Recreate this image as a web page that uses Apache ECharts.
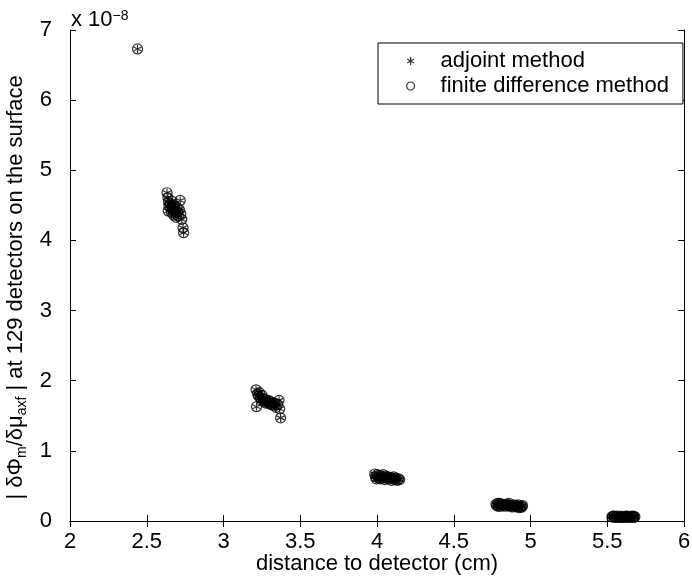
<!DOCTYPE html>
<html><head><meta charset="utf-8">
<script src="https://cdn.jsdelivr.net/npm/echarts@6/dist/echarts.min.js"></script>
<style>html,body{margin:0;padding:0;background:#fff}#c{width:692px;height:576px}</style>
</head><body><div id="c"></div>
<script>
// distance to detector (cm)
const distances = [
  2.440,
  2.632,2.638,2.641,2.645,2.640,2.652,2.657,2.660,2.664,2.668,2.672,2.676,2.680,2.684,2.688,2.692,2.697,2.702,2.706,2.712,2.718,2.722,2.728,2.736,2.740,
  3.212,3.215,3.222,3.228,3.234,3.240,3.246,3.252,3.258,3.264,3.270,3.276,3.282,3.288,3.294,3.300,3.306,3.312,3.318,3.326,3.334,3.342,3.352,3.362,3.366,3.372,
  3.985,3.990,3.995,4.000,4.008,4.014,4.020,4.026,4.032,4.040,4.046,4.052,4.058,4.066,4.072,4.080,4.088,4.094,4.100,4.108,4.116,4.124,4.132,4.140,4.148,
  4.775,4.780,4.788,4.795,4.802,4.810,4.818,4.826,4.834,4.842,4.850,4.858,4.866,4.874,4.882,4.890,4.898,4.906,4.914,4.922,4.930,4.938,4.944,4.790,4.860,4.920,4.800,4.948,
  5.530,5.538,5.546,5.554,5.562,5.570,5.578,5.586,5.594,5.602,5.610,5.618,5.626,5.634,5.642,5.650,5.658,5.666,5.674,5.680,5.544,5.590,5.630,5.672
];
// |dPhi_m/dmu_axf| (units of 1e-8), adjoint method
const adjointVals = [
  6.73,
  4.68,4.61,4.55,4.49,4.42,4.52,4.46,4.40,4.56,4.48,4.43,4.36,4.50,4.45,4.39,4.33,4.47,4.41,4.35,4.44,4.57,4.38,4.30,4.18,4.11,
  1.87,1.63,1.81,1.78,1.83,1.76,1.72,1.79,1.74,1.70,1.73,1.68,1.71,1.69,1.72,1.67,1.70,1.66,1.69,1.65,1.68,1.62,1.66,1.72,1.60,1.47,
  0.67,0.63,0.60,0.66,0.62,0.65,0.60,0.64,0.61,0.66,0.62,0.59,0.64,0.61,0.63,0.60,0.62,0.58,0.61,0.63,0.59,0.61,0.58,0.60,0.59,
  0.24,0.22,0.25,0.23,0.21,0.24,0.22,0.23,0.21,0.24,0.22,0.23,0.21,0.22,0.20,0.23,0.21,0.22,0.20,0.21,0.19,0.21,0.20,0.21,0.25,0.23,0.25,0.22,
  0.06,0.07,0.05,0.06,0.07,0.05,0.06,0.07,0.06,0.05,0.06,0.07,0.05,0.06,0.06,0.05,0.07,0.06,0.05,0.06,0.07,0.05,0.07,0.07
];
// finite difference method (visually identical to adjoint)
const fdVals = adjointVals.slice();
const xTicks = [2, 2.5, 3, 3.5, 4, 4.5, 5, 5.5, 6];
const yTicks = [0, 1, 2, 3, 4, 5, 6, 7];
const seriesNames = ['adjoint method', 'finite difference method'];
const yExponent = '\u22128';

const FONT = 'Liberation Sans, Arial, Helvetica, sans-serif';
const FS = 22;
const asterisk = 'path://M5,0L5,10M0.67,2.5L9.33,7.5M0.67,7.5L9.33,2.5';
const markStyle = { color: 'transparent', borderColor: '#000', borderWidth: 1.2 };

const chart = echarts.init(document.getElementById('c'), null, { renderer: 'canvas' });
const axisCommon = {
  axisLine: { show: true, lineStyle: { color: '#000', width: 1 } },
  axisTick: { show: true, inside: true, length: 6, lineStyle: { color: '#000' } },
  splitLine: { show: false }
};
chart.setOption({
  animation: false,
  backgroundColor: '#fff',
  grid: { left: 70, right: 8, top: 30, bottom: 55, containLabel: false, outerBoundsMode: 'none' },
  xAxis: [
    Object.assign({
      type: 'value', min: xTicks[0], max: xTicks[xTicks.length - 1], interval: 0.5, position: 'bottom',
      axisLabel: { color: '#000', fontSize: FS, fontFamily: FONT, margin: 10 },
      name: 'distance to detector (cm)', nameLocation: 'middle', nameGap: 32, nameMoveOverlap: false,
      nameTextStyle: { color: '#000', fontSize: FS, fontFamily: FONT }
    }, axisCommon),
    Object.assign({
      type: 'value', min: xTicks[0], max: xTicks[xTicks.length - 1], interval: 0.5, position: 'top',
      axisLabel: { show: false }
    }, axisCommon)
  ],
  yAxis: [
    Object.assign({
      type: 'value', min: yTicks[0], max: yTicks[yTicks.length - 1], interval: 1, position: 'left',
      axisLabel: { color: '#000', fontSize: FS, fontFamily: FONT, margin: 18 },
      name: '| δΦ{sub|m}/δμ{sub|axf} | at 129 detectors on the surface',
      nameLocation: 'middle', nameGap: 36, nameRotate: 90,
      nameTextStyle: {
        color: '#000', fontSize: FS, fontFamily: FONT, lineHeight: 26, padding: [0, 24, 0, 0],
        rich: { sub: { fontSize: 14, fontFamily: FONT, color: '#000', verticalAlign: 'bottom', lineHeight: 14 } }
      }
    }, axisCommon),
    Object.assign({
      type: 'value', min: yTicks[0], max: yTicks[yTicks.length - 1], interval: 1, position: 'right',
      axisLabel: { show: false }
    }, axisCommon)
  ],
  legend: {
    orient: 'vertical', left: 378, top: 43,
    selectedMode: false,
    backgroundColor: '#fff',
    borderColor: '#000', borderWidth: 1, borderRadius: 0,
    padding: [7, 14, 7, 28], itemGap: 3, itemWidth: 8, itemHeight: 8,
    textStyle: { color: '#000', fontSize: FS, fontFamily: FONT, padding: [0, 0, 0, 21] },
    data: [
      { name: seriesNames[0], icon: asterisk, itemStyle: markStyle },
      { name: seriesNames[1], icon: 'circle', itemStyle: markStyle }
    ]
  },
  graphic: [{
    type: 'text', left: 71, top: 9,
    style: {
      text: 'x 10{s|' + yExponent + '}', fill: '#000', font: FS + 'px ' + FONT,
      rich: { s: { fontSize: 14, fontFamily: FONT, fill: '#000', verticalAlign: 'top', lineHeight: 14 } }
    }
  }],
  series: [
    {
      name: seriesNames[0], type: 'scatter', symbol: asterisk, symbolSize: 8,
      itemStyle: markStyle, z: 3,
      data: distances.map((d, i) => [d, adjointVals[i]])
    },
    {
      name: seriesNames[1], type: 'scatter', symbol: 'circle', symbolSize: 10,
      itemStyle: markStyle, z: 2,
      data: distances.map((d, i) => [d, fdVals[i]])
    }
  ]
});
</script></body></html>
